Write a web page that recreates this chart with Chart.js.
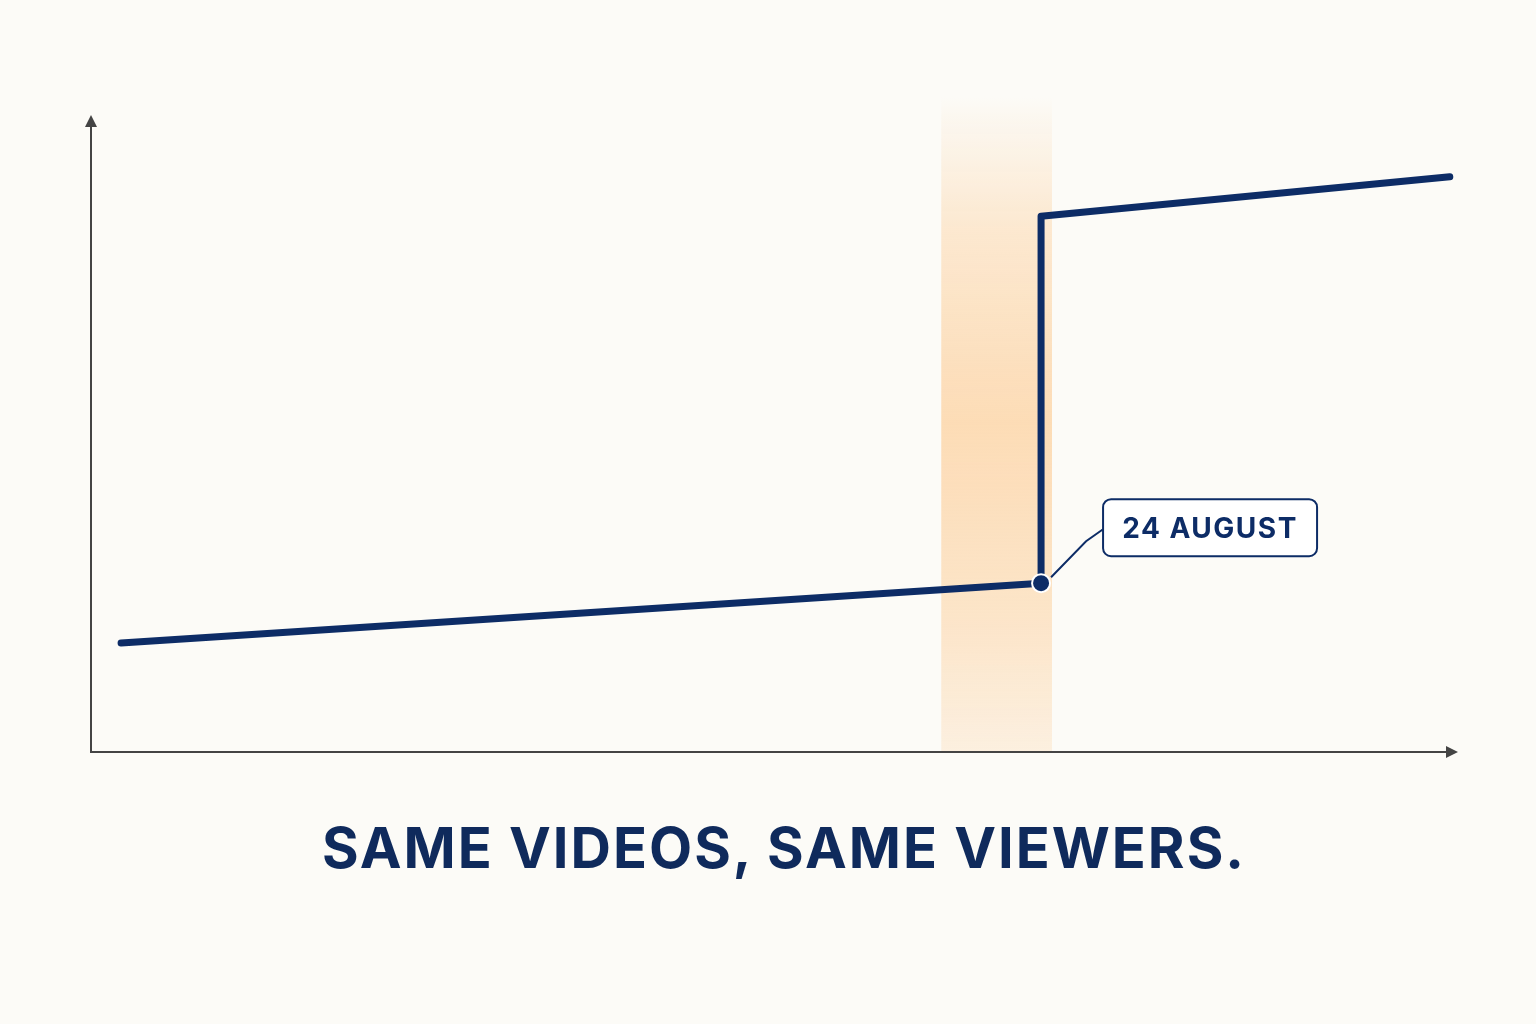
<!DOCTYPE html>
<html>
<head>
<meta charset="utf-8">
<script src="https://cdn.jsdelivr.net/npm/chart.js@4"></script>
<style>
  html, body { margin: 0; padding: 0; background: #fcfbf7; }
  #wrap { position: relative; width: 1536px; height: 1024px; }
  #title {
    position: absolute; left: 16px; width: 1536px; top: 808px;
    text-align: center; font-family: Inter, "DejaVu Sans", sans-serif;
    font-weight: 700; font-size: 56px; letter-spacing: 2px; color: #0f2a5c;
    margin: 0; line-height: 80px;
  }
</style>
</head>
<body>
<div id="wrap">
  <canvas id="myChart"></canvas>
  <h1 id="title">SAME VIDEOS, SAME VIEWERS.</h1>
</div>
<script>
// x: position along the timeline (0-100), y: level (0-100)
var xs = [2.2, 69.5, 69.5, 99.4];
var ys = [17.1, 26.5, 84.1, 90.3];
var markIndex = 1;
var markLabel = '24 AUGUST';
var bandFrom = 62.2;
var bandTo = 70.3;

var navy = '#0d2c66';

var points = xs.map(function (x, i) { return { x: x, y: ys[i] }; });

var bandPlugin = {
  id: 'band',
  beforeDatasetsDraw: function (chart) {
    var c = chart.ctx, a = chart.chartArea;
    var x0 = chart.scales.x.getPixelForValue(bandFrom);
    var x1 = chart.scales.x.getPixelForValue(bandTo);
    var top = a.top - 20, bottom = a.bottom;
    var g = c.createLinearGradient(0, top, 0, bottom);
    g.addColorStop(0, 'rgba(252,214,170,0)');
    g.addColorStop(0.2, 'rgba(252,214,170,0.5)');
    g.addColorStop(0.5, 'rgba(252,214,170,0.85)');
    g.addColorStop(0.8, 'rgba(252,214,170,0.6)');
    g.addColorStop(1, 'rgba(252,214,170,0.3)');
    c.save();
    c.fillStyle = g;
    c.fillRect(x0, top, x1 - x0, bottom - top);
    c.restore();
  }
};

var axesPlugin = {
  id: 'arrowAxes',
  beforeDatasetsDraw: function (chart) {
    var c = chart.ctx, a = chart.chartArea;
    c.save();
    c.strokeStyle = '#444'; c.fillStyle = '#444'; c.lineWidth = 2;
    c.beginPath();
    c.moveTo(a.left, a.top + 4); c.lineTo(a.left, a.bottom); c.lineTo(a.right - 4, a.bottom);
    c.stroke();
    c.beginPath();
    c.moveTo(a.left, a.top); c.lineTo(a.left - 6, a.top + 12); c.lineTo(a.left + 6, a.top + 12);
    c.closePath(); c.fill();
    c.beginPath();
    c.moveTo(a.right, a.bottom); c.lineTo(a.right - 12, a.bottom - 6); c.lineTo(a.right - 12, a.bottom + 6);
    c.closePath(); c.fill();
    c.restore();
  }
};

var calloutPlugin = {
  id: 'callout',
  afterDatasetsDraw: function (chart) {
    var c = chart.ctx;
    var px = chart.scales.x.getPixelForValue(xs[markIndex]);
    var py = chart.scales.y.getPixelForValue(ys[markIndex]);
    var bx = px + 62, by = py - 84, bw = 214, bh = 57;
    c.save();
    c.strokeStyle = navy; c.lineWidth = 2;
    c.beginPath();
    c.moveTo(px + 10, py - 6);
    c.lineTo(px + 45, py - 42);
    c.lineTo(bx, by + 30);
    c.stroke();
    c.fillStyle = '#ffffff';
    c.beginPath();
    c.roundRect(bx, by, bw, bh, 8);
    c.fill(); c.stroke();
    c.fillStyle = navy;
    c.font = '700 28px Inter, "DejaVu Sans", sans-serif';
    c.letterSpacing = '1.5px';
    c.textAlign = 'center'; c.textBaseline = 'middle';
    c.fillText(markLabel, bx + bw / 2, by + bh / 2 + 2);
    c.restore();
  }
};

var ctx = document.getElementById('myChart');
var myChart = new Chart(ctx, {
  type: 'line',
  data: {
    datasets: [{
      data: points,
      borderColor: navy,
      borderWidth: 7,
      borderCapStyle: 'round',
      borderJoinStyle: 'round',
      tension: 0,
      pointRadius: xs.map(function (x, i) { return i === markIndex ? 9 : 0; }),
      pointBackgroundColor: navy,
      pointBorderColor: '#ffffff',
      pointBorderWidth: 2,
      pointHoverRadius: 0
    }]
  },
  options: {
    responsive: true,
    maintainAspectRatio: false,
    animation: false,
    events: [],
    layout: { padding: { left: 91, right: 78, top: 115, bottom: 272 } },
    scales: {
      x: { type: 'linear', min: 0, max: 100, display: false },
      y: { type: 'linear', min: 0, max: 100, display: false }
    },
    plugins: { legend: { display: false }, tooltip: { enabled: false } }
  },
  plugins: [bandPlugin, axesPlugin, calloutPlugin]
});
</script>
</body>
</html>
